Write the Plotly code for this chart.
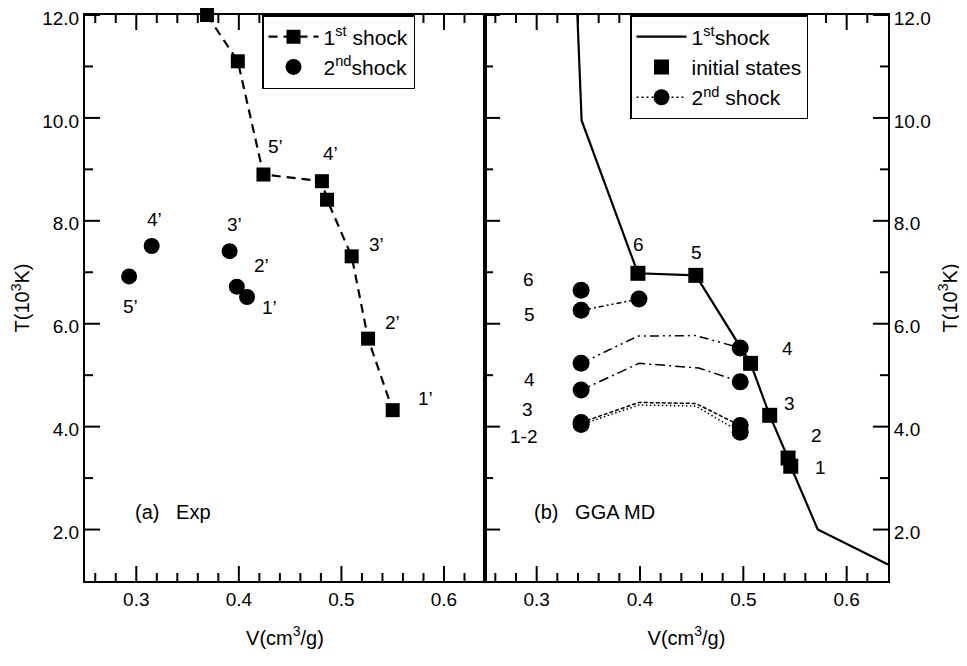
import plotly.graph_objects as go

# ---------------- data: panel (a) Exp ----------------
exp_v1 = [0.369, 0.399, 0.424, 0.481, 0.486, 0.510, 0.526, 0.550]
exp_t1 = [12.0, 11.10, 8.90, 8.77, 8.41, 7.31, 5.71, 4.32]
exp_lab1 = ["", "", "5’", "4’", "", "3’", "2’", "1’"]

exp_v2 = [0.293, 0.315, 0.391, 0.398, 0.408]
exp_t2 = [6.92, 7.51, 7.41, 6.72, 6.52]
exp_lab2 = ["5’", "4’", "3’", "2’", "1’"]

# ---------------- data: panel (b) GGA MD ----------------
md_hug_v = [0.3394, 0.3435, 0.398, 0.454, 0.507, 0.5255, 0.5433, 0.5459, 0.572, 0.640]
md_hug_t = [12.0, 9.95, 6.98, 6.94, 5.23, 4.22, 3.39, 3.23, 2.00, 1.32]

md_init_v = [0.398, 0.454, 0.507, 0.5255, 0.5433, 0.5459]
md_init_t = [6.98, 6.94, 5.23, 4.22, 3.39, 3.23]
md_init_lab = ["6", "5", "4", "3", "2", "1"]

md_c2_v = [0.343, 0.343, 0.343, 0.343, 0.343, 0.343, 0.399, 0.497, 0.497, 0.497, 0.497]
md_c2_t = [6.65, 6.26, 5.23, 4.71, 4.08, 4.04, 6.48, 5.53, 4.87, 4.02, 3.89]
md_c2_lab = ["6", "5", "", "4", "3", "1-2", "", "", "", "", ""]

# second-shock paths (panel b)
p5_v = [0.343, 0.399]
p5_t = [6.26, 6.48]
p4a_v = [0.343, 0.398, 0.454, 0.497]
p4a_t = [5.23, 5.76, 5.77, 5.53]
p4b_v = [0.343, 0.399, 0.457, 0.497]
p4b_t = [4.71, 5.23, 5.14, 4.87]
p3_v = [0.343, 0.399, 0.454, 0.497]
p3_t = [4.08, 4.47, 4.45, 4.02]
p12_v = [0.343, 0.399, 0.454, 0.497]
p12_t = [4.04, 4.42, 4.40, 3.89]

# axis ranges and tick positions
x_range = [0.25, 0.64]
y_range = [1.0, 12.0]
x_major_ticks = [0.3, 0.4, 0.5, 0.6]
x_minor_ticks = [0.26, 0.28, 0.32, 0.34, 0.36, 0.38, 0.42, 0.44, 0.46, 0.48,
                 0.52, 0.54, 0.56, 0.58, 0.62]
y_major_ticks = [2.0, 4.0, 6.0, 8.0, 10.0, 12.0]
y_minor_ticks = [3.0, 5.0, 7.0, 9.0, 11.0]

# ---------------- styling ----------------
off_lab1 = [None, None, (12, -28), (9, -28), None, (25, -12), (24, -16), (33, -12)]
off_lab2 = [(1, 30), (3, -27), (5, -27), (25, -21), (22, 11)]
off_init = [(1, -29), (1, -23), (37, -15), (20, -12), (28, -23), (30, 1)]
off_c2 = [(-53, -11), (-52, 4), None, (-52, -11), (-54, -13), (-58, 12),
          None, None, None, None, None]

FONT = "Liberation Sans, Arial, Helvetica, sans-serif"
BLACK = "black"
MAJ, MIN = 15, 8            # tick lengths in px
PANEL_W, PANEL_H = 400, 566  # panel size in px
SPLIT = 400 / 803

fig = go.Figure()

# panel (a)
fig.add_trace(go.Scatter(
    x=exp_v1, y=exp_t1, mode="lines+markers", name="1<sup>st</sup> shock",
    line=dict(color=BLACK, width=2.2, dash="9px,6px"),
    marker=dict(symbol="square", size=14, color=BLACK),
    cliponaxis=False, xaxis="x", yaxis="y", legend="legend"))
fig.add_trace(go.Scatter(
    x=exp_v2, y=exp_t2, mode="markers", name="2<sup>nd</sup>shock",
    marker=dict(symbol="circle", size=16, color=BLACK),
    xaxis="x", yaxis="y", legend="legend"))

# panel (b)
fig.add_trace(go.Scatter(
    x=md_hug_v, y=md_hug_t, mode="lines", name="1<sup>st</sup>shock",
    line=dict(color=BLACK, width=2.2),
    xaxis="x2", yaxis="y2", legend="legend2"))
fig.add_trace(go.Scatter(
    x=md_init_v, y=md_init_t, mode="markers", name="initial states",
    marker=dict(symbol="square", size=15, color=BLACK),
    xaxis="x2", yaxis="y2", legend="legend2"))

paths = [
    (p5_v, p5_t, "5px,3px,2px,3px,2px,3px"),
    (p4a_v, p4a_t, "9px,4px,2px,4px,2px,4px"),
    (p4b_v, p4b_t, "10px,4px,2px,4px"),
    (p3_v, p3_t, "4px,2px"),
    (p12_v, p12_t, "1.5px,2.5px"),
]
for pv, pt, dsh in paths:
    fig.add_trace(go.Scatter(
        x=pv, y=pt, mode="lines", showlegend=False, hoverinfo="skip",
        line=dict(color=BLACK, width=1.5, dash=dsh),
        xaxis="x2", yaxis="y2"))

cv, ct = [], []
for v, t in zip(md_c2_v, md_c2_t):
    cv += [v, None]
    ct += [t, None]
fig.add_trace(go.Scatter(
    x=cv, y=ct, mode="lines+markers", name="2<sup>nd</sup> shock",
    connectgaps=False,
    line=dict(color=BLACK, width=1.5, dash="2px,3px"),
    marker=dict(symbol="circle", size=17, color=BLACK),
    xaxis="x2", yaxis="y2", legend="legend2"))

# ---------------- tick marks (inside, on the frame) ----------------
ux = (x_range[1] - x_range[0]) / PANEL_W   # data units per px
uy = (y_range[1] - y_range[0]) / PANEL_H

def tick_trace(xa, ya, y_sides):
    tx, ty = [], []
    for vals, ln in ((x_major_ticks, MAJ), (x_minor_ticks, MIN)):
        for v in vals:
            tx += [v, v, None, v, v, None]
            ty += [y_range[0], y_range[0] + ln * uy, None,
                   y_range[1], y_range[1] - ln * uy, None]
    for vals, ln in ((y_major_ticks, MAJ), (y_minor_ticks, MIN)):
        for v in vals:
            if "left" in y_sides:
                tx += [x_range[0], x_range[0] + ln * ux, None]
                ty += [v, v, None]
            if "right" in y_sides:
                tx += [x_range[1], x_range[1] - ln * ux, None]
                ty += [v, v, None]
    fig.add_trace(go.Scatter(x=tx, y=ty, mode="lines", showlegend=False,
                             hoverinfo="skip", connectgaps=False,
                             line=dict(color=BLACK, width=2),
                             xaxis=xa, yaxis=ya))

tick_trace("x", "y", ("left",))
tick_trace("x2", "y2", ("left", "right"))

# ---------------- annotations ----------------
ann = []
LF = dict(family=FONT, size=19, color=BLACK)

def add_labels(vs, ts, labs, offs, xr, yr):
    for v, t, lab, off in zip(vs, ts, labs, offs):
        if lab and off:
            ann.append(dict(x=v, y=t, xref=xr, yref=yr, text=lab, showarrow=False,
                            xshift=off[0], yshift=-off[1], font=LF))

add_labels(exp_v1, exp_t1, exp_lab1, off_lab1, "x", "y")
add_labels(exp_v2, exp_t2, exp_lab2, off_lab2, "x", "y")
add_labels(md_init_v, md_init_t, md_init_lab, off_init, "x2", "y2")
add_labels(md_c2_v, md_c2_t, md_c2_lab, off_c2, "x2", "y2")

NB = "\u00a0"
ann.append(dict(x=0.12, y=0.099, xref="x domain", yref="y domain", xanchor="left",
                text="(a)" + NB * 3 + "Exp", showarrow=False,
                font=dict(family=FONT, size=20, color=BLACK)))
ann.append(dict(x=0.116, y=0.099, xref="x2 domain", yref="y2 domain", xanchor="left",
                text="(b)" + NB * 3 + "GGA MD", showarrow=False,
                font=dict(family=FONT, size=20, color=BLACK)))

TICKF = dict(family=FONT, size=19, color=BLACK)
TITLEF = dict(family=FONT, size=20, color=BLACK)

xcommon = dict(range=x_range, tickmode="array", tickvals=x_major_ticks,
               tickformat=".1f", ticks="", ticklabeloverflow="allow",
               showline=True, linewidth=2, linecolor=BLACK, mirror=True,
               showgrid=False, zeroline=False, tickfont=TICKF, automargin=False,
               title=dict(text="V(cm<sup>3</sup>/g)", font=TITLEF, standoff=22))
ycommon = dict(range=y_range, tickmode="array", tickvals=y_major_ticks,
               tickformat=".1f", ticks="", ticklabeloverflow="allow",
               showline=True, linewidth=2, linecolor=BLACK, mirror=True,
               showgrid=False, zeroline=False, tickfont=TICKF, automargin=False,
               ticklabelshift=3)

fig.update_layout(
    template="none",
    width=959, height=658,
    margin=dict(l=77, r=79, t=7, b=85, autoexpand=False),
    paper_bgcolor="white", plot_bgcolor="white",
    font=dict(family=FONT, color=BLACK),
    xaxis=dict(domain=[0, SPLIT], anchor="y", **xcommon),
    xaxis2=dict(domain=[SPLIT, 1], anchor="y2", **xcommon),
    yaxis=dict(domain=[0, 1], anchor="x", side="left",
               title=dict(text="T(10<sup>3</sup>K)", font=TITLEF, standoff=10), **ycommon),
    yaxis2=dict(domain=[0, 1], anchor="x2", side="right",
                title=dict(text="T(10<sup>3</sup>K)", font=TITLEF, standoff=13), **ycommon),
    legend=dict(x=(262 - 85) / 803, y=1.0, xanchor="left", yanchor="top",
                bgcolor="white", bordercolor=BLACK, borderwidth=1.5, itemwidth=50,
                font=dict(family=FONT, size=21, color=BLACK)),
    legend2=dict(x=(630 - 85) / 803, y=1.0, xanchor="left", yanchor="top",
                 bgcolor="white", bordercolor=BLACK, borderwidth=1.5, itemwidth=50,
                 font=dict(family=FONT, size=21, color=BLACK)),
    annotations=ann,
    showlegend=True,
)

fig.write_html("out.html")
